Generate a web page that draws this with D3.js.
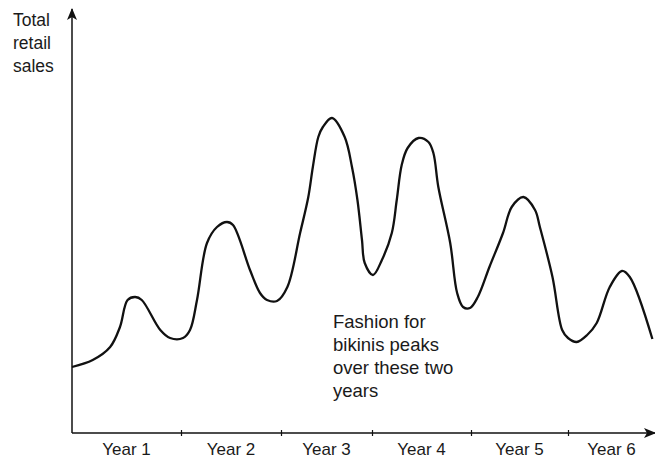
<!DOCTYPE html>
<html>
<head>
<meta charset="utf-8">
<script src="https://cdn.jsdelivr.net/npm/d3@7"></script>
<style>
  body { margin: 0; background: #fff; }
  text { font-family: "Liberation Sans", Arial, sans-serif; fill: #1a1a1a; }
</style>
</head>
<body>
<div id="chart"></div>
<script>
var svgWidth = 655;
var svgHeight = 458;

// year boundaries (0..6) and the year names
var years = ["Year 1", "Year 2", "Year 3", "Year 4", "Year 5", "Year 6"];
var yearEdges = [0, 1, 2, 3, 4, 5, 6];

// time in years, total retail sales in arbitrary units
var salesTime = [0, 0.19, 0.35, 0.44, 0.51, 0.58, 0.64, 0.81, 0.90, 1.02, 1.09, 1.16,
  1.26, 1.36, 1.46, 1.52, 1.69, 1.79, 1.86, 1.96, 2.07, 2.21, 2.30, 2.35, 2.41,
  2.46, 2.56, 2.70, 2.78, 2.84, 2.89, 2.92, 3.01, 3.10, 3.20, 3.25, 3.30, 3.36, 3.47,
  3.57, 3.62, 3.67, 3.79, 3.86, 3.92, 3.99, 4.07, 4.19, 4.33, 4.42, 4.54, 4.66, 4.71,
  4.84, 4.94, 5.00, 5.10, 5.22, 5.33, 5.48, 5.62, 5.71, 5.97];
var salesValue = [66, 73, 86, 106, 133, 136, 133, 103, 95, 95, 103, 133,
  190, 206, 211, 208, 163, 140, 133, 132, 146, 200, 236, 266, 296,
  306, 315, 296, 266, 233, 193, 170, 158, 173, 200, 233, 268, 285, 295,
  291, 280, 246, 190, 140, 126, 125, 136, 166, 200, 226, 236, 223, 206,
  156, 103, 95, 91, 98, 110, 146, 162, 156, 94];

var yLabel = ["Total", "retail", "sales"];
var note = ["Fashion for", "bikinis peaks", "over these two", "years"];

var svg = d3.select("#chart")
  .append("svg")
  .attr("width", svgWidth)
  .attr("height", svgHeight);

var x0 = 72, y0 = 433;

// years are drawn by hand so they are not quite equal in width
var x = d3.scaleLinear()
  .domain(yearEdges)
  .range([72, 181, 281, 372, 471, 568, 655]);

var y = d3.scaleLinear()
  .domain([0, 418])
  .range([y0, 15]);

var defs = svg.append("defs");
defs.append("marker")
  .attr("id", "arrow")
  .attr("viewBox", "0 0 12 12")
  .attr("refX", 11)
  .attr("refY", 6)
  .attr("markerWidth", 12)
  .attr("markerHeight", 12)
  .attr("markerUnits", "userSpaceOnUse")
  .attr("orient", "auto")
  .append("path")
  .attr("d", "M0,1 L12,6 L0,11 L3,6 Z")
  .attr("fill", "#111");

// y axis
svg.append("line")
  .attr("x1", x0).attr("y1", y0)
  .attr("x2", x0).attr("y2", 9)
  .attr("stroke", "#111")
  .attr("stroke-width", 1.5)
  .attr("marker-end", "url(#arrow)");

// x axis
svg.append("line")
  .attr("x1", x0).attr("y1", y0)
  .attr("x2", 655).attr("y2", y0)
  .attr("stroke", "#111")
  .attr("stroke-width", 1.5)
  .attr("marker-end", "url(#arrow)");

var xAxis = svg.append("g")
  .attr("transform", `translate(0, ${y0 - 3})`)
  .call(d3.axisBottom(x).tickValues([1, 2, 3, 4, 5]).tickSize(6).tickFormat(""));
xAxis.select(".domain").remove();
xAxis.selectAll(".tick line").attr("stroke", "#111").attr("stroke-width", 1.2);

svg.selectAll(".year")
  .data(years)
  .enter()
  .append("text")
  .attr("class", "year")
  .attr("x", (d, i) => x(i + 0.5))
  .attr("y", 455)
  .attr("text-anchor", "middle")
  .attr("font-size", "17px")
  .text(d => d);

var line = d3.line()
  .x(d => x(d[0]))
  .y(d => y(d[1]))
  .curve(d3.curveCatmullRom.alpha(0.5));

svg.append("path")
  .datum(d3.zip(salesTime, salesValue))
  .attr("d", line)
  .attr("fill", "none")
  .attr("stroke", "#111")
  .attr("stroke-width", 2.3)
  .attr("stroke-linejoin", "round");

svg.selectAll(".ylab")
  .data(yLabel)
  .enter()
  .append("text")
  .attr("class", "ylab")
  .attr("x", 13)
  .attr("y", (d, i) => 26 + i * 23)
  .attr("font-size", "17.5px")
  .text(d => d);

svg.selectAll(".note")
  .data(note)
  .enter()
  .append("text")
  .attr("class", "note")
  .attr("x", 333)
  .attr("y", (d, i) => 328 + i * 23)
  .attr("font-size", "18.5px")
  .text(d => d);
</script>
</body>
</html>
